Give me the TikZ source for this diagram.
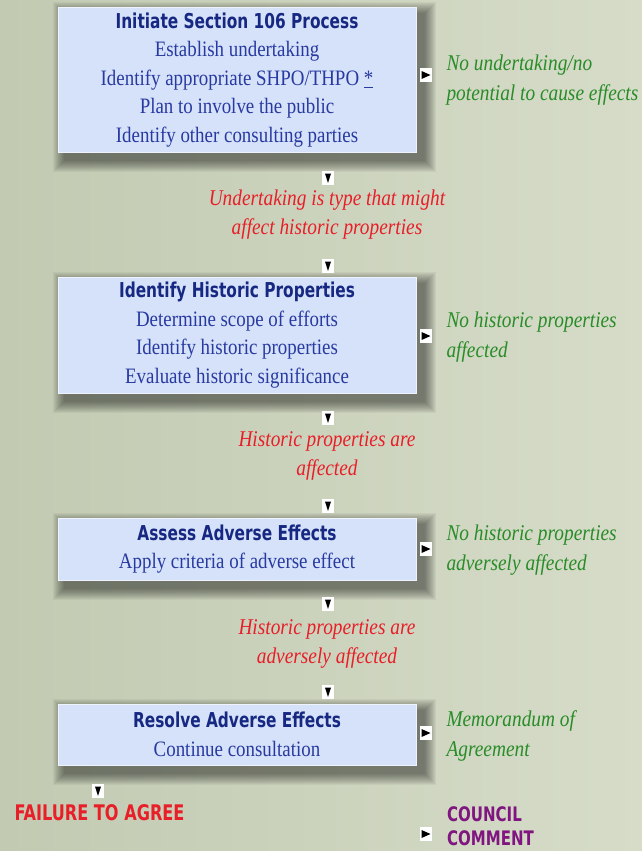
\documentclass[tikz,border=0pt]{standalone}
\usepackage{fontspec}
\setmainfont[FakeStretch=0.86]{Liberation Serif}
\newfontfamily\headfont[FakeStretch=0.75]{DejaVu Sans}

\definecolor{bgleft}{RGB}{194,202,178}
\definecolor{bgright}{RGB}{214,220,200}
\definecolor{boxfill}{RGB}{214,226,250}
\definecolor{headblue}{RGB}{22,40,130}
\definecolor{lineblue}{RGB}{40,58,160}
\definecolor{okgreen}{RGB}{40,140,40}
\definecolor{gored}{RGB}{232,30,40}
\definecolor{cpurple}{RGB}{128,20,128}

\pgfdeclarelayer{bg}
\pgfdeclarelayer{shade}
\pgfsetlayers{bg,shade,main}

\tikzset{
  stepbox/.style={fill=boxfill, draw=white!60!boxfill, line width=1pt,
    minimum width=358pt, inner sep=0pt, align=center, text=lineblue,
    font=\fontsize{22}{28.5}\selectfont},
  notenext/.style={anchor=west, align=left, text=okgreen,
    font=\itshape\fontsize{22.5}{29.5}\selectfont},
  goon/.style={align=center, text=gored,
    font=\itshape\fontsize{22.5}{29}\selectfont},
  downmark/.style={fill=white, inner sep=0pt, minimum width=12pt, minimum height=14pt,
    path picture={\fill[black] (path picture bounding box.north west) ++(3pt,-2.5pt)
      -- ++(6pt,0pt) -- ++(-3pt,-9.5pt) -- cycle;}},
  rightmark/.style={fill=white, inner sep=0pt, minimum width=12pt, minimum height=14pt,
    path picture={\fill[black] (path picture bounding box.north west) ++(1.5pt,-3pt)
      -- ++(0pt,-8pt) -- ++(9pt,4pt) -- cycle;}}
}
\newcommand{\stephead}[1]{{\color{headblue}\headfont\bfseries\fontsize{20.5}{20}\selectfont #1}}

\begin{document}
\begin{tikzpicture}[x=1pt, y=-1pt]
  % background
  \useasboundingbox (0,0) rectangle (642,851);
  \begin{pgfonlayer}{bg}
    \shade[left color=bgleft, right color=bgright] (0,0) rectangle (642,851);
  \end{pgfonlayer}

  % the four steps
  \node[stepbox, minimum height=144pt] (initiate) at (237,80)
    {\stephead{Initiate Section 106 Process}\\
     Establish undertaking\\
     Identify appropriate SHPO/THPO \underline{*}\\
     Plan to involve the public\\
     Identify other consulting parties};
  \node[stepbox, minimum height=116pt] (identify) at (237,335)
    {\stephead{Identify Historic Properties}\\
     Determine scope of efforts\\
     Identify historic properties\\
     Evaluate historic significance};
  \node[stepbox, minimum height=62pt] (assess) at (237,549)
    {\stephead{Assess Adverse Effects}\\
     Apply criteria of adverse effect};
  \node[stepbox, minimum height=61pt] (resolve) at (237,734.5)
    {\stephead{Resolve Adverse Effects}\\
     Continue consultation};

  % soft shadows behind the steps
  \begin{pgfonlayer}{shade}
    \foreach \b in {initiate,identify,assess,resolve}
      \foreach \k in {1,...,12}
        \fill[black, opacity=0.045]
          ([xshift=7pt-\k pt, yshift=-7pt+\k pt]\b.north west)
          rectangle ([xshift=7pt+\k pt, yshift=-7pt-\k pt]\b.south east);
  \end{pgfonlayer}

  % markers down the middle
  \node[downmark] (d1) at (328,178) {};
  \node[goon] (undertaking) at (327,215) {Undertaking is type that might\\affect historic properties};
  \node[downmark] (d2) at (328,266) {};
  \node[downmark] (d3) at (328,418) {};
  \node[goon] (affected) at (327,456) {Historic properties are\\affected};
  \node[downmark] (d4) at (328,506) {};
  \node[downmark] (d5) at (328,604) {};
  \node[goon] (adversely) at (327,644) {Historic properties are\\adversely affected};
  \node[downmark] (d6) at (328,692) {};

  % exits to the right
  \node[rightmark] (r1) at (426,75) {};
  \node[notenext] (noeffects) at (443,80) {No undertaking/no\\potential to cause effects};
  \node[rightmark] (r2) at (426,336) {};
  \node[notenext] (noprops) at (443,337) {No historic properties\\affected};
  \node[rightmark] (r3) at (426,549) {};
  \node[notenext] (noadverse) at (443,550) {No historic properties\\adversely affected};
  \node[rightmark] (r4) at (426,733) {};
  \node[notenext] (moa) at (443,736) {Memorandum of\\Agreement};

  % the last step
  \node[downmark] (d7) at (98,791) {};
  \node[anchor=west, text=gored, font=\headfont\bfseries\fontsize{21.5}{20}\selectfont]
    (failure) at (11,813) {FAILURE TO AGREE};
  \node[rightmark] (r5) at (426,834) {};
  \node[anchor=west, align=left, text=cpurple, inner sep=1pt,
    font=\headfont\bfseries\fontsize{20}{23.5}\selectfont] (council) at (446,826) {COUNCIL\\COMMENT};
\end{tikzpicture}
\end{document}
